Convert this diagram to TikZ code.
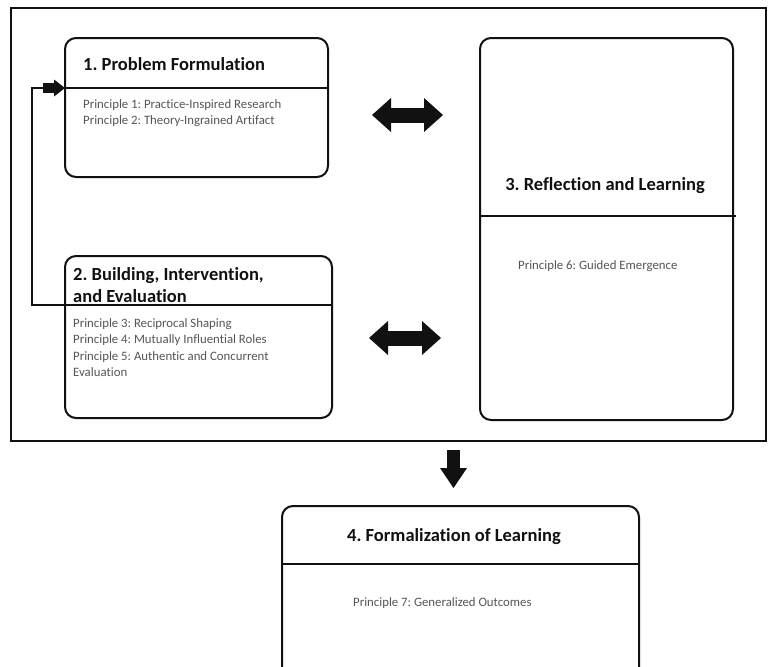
\documentclass[tikz,border=0pt]{standalone}
\usepackage{fontspec}
\setmainfont{Carlito}[Ligatures={NoCommon}]
\frenchspacing
\usetikzlibrary{arrows.meta}
\definecolor{ink}{HTML}{111111}
\definecolor{note}{HTML}{555555}
\begin{document}
\begin{tikzpicture}[x=1pt,y=-1pt,
  framebox/.style={draw=ink,line width=2pt,anchor=north west,inner sep=0pt,outer sep=0pt},
  phase/.style={framebox,rounded corners=11pt},
  rule/.style={draw=ink,line width=2pt},
  heading/.style={text=ink,font=\fontsize{18.5}{22}\selectfont\bfseries,inner sep=0pt},
  principle/.style={text=note,font=\fontsize{12.8}{15}\selectfont,anchor=base west,inner sep=0pt},
  fatboth/.style={draw=ink,line width=15pt,
    {Triangle[length=19pt,width=34pt,line width=0pt]}-{Triangle[length=19pt,width=34pt,line width=0pt]}},
  fatone/.style={draw=ink,line width=13pt,-{Triangle[length=20pt,width=27pt,line width=0pt]}},
  fatsmall/.style={draw=ink,line width=10pt,-{Triangle[length=11pt,width=17pt,line width=0pt]}},
]
\clip (0,0) rectangle (769,667);
\fill[white] (0,0) rectangle (769,667);

% outer frame around the iterative stages
\node[framebox,minimum width=755pt,minimum height=433pt] (cycle) at (11,8) {};

% stage boxes
\node[phase,minimum width=263pt,minimum height=139pt] (b1) at (65,38) {};
\node[phase,minimum width=267pt,minimum height=162pt] (b2) at (65,256) {};
\node[phase,minimum width=253pt,minimum height=382pt] (b3) at (480,38) {};
\node[phase,minimum width=357pt,minimum height=300pt] (b4) at (282,506) {};

% header dividers
\draw[rule] (65,88) -- (328,88);
\draw[rule] (480,216) -- (736,216);
\draw[rule] (282,564) -- (639,564);

% stage 1
\node[heading,anchor=base west] (t1) at (83,70) {1. Problem Formulation};
\node[principle] (p1) at (83,108) {Principle 1: Practice-Inspired Research};
\node[principle] (p2) at (83,124) {Principle 2: Theory-Ingrained Artifact};

% stage 2
\node[heading,anchor=base west] (t2a) at (73,280) {2. Building, Intervention,};
\node[heading,anchor=base west] (t2b) at (73,302) {and Evaluation};
\node[principle] (p3) at (73,327) {Principle 3: Reciprocal Shaping};
\node[principle] (p4) at (73,343.5) {Principle 4: Mutually Influential Roles};
\node[principle] (p5) at (73,360) {Principle 5: Authentic and Concurrent};
\node[principle] (p5b) at (73,376.5) {Evaluation};

% stage 3
\node[heading,anchor=base] (t3) at (605,190) {3. Reflection and Learning};
\node[principle] (p6) at (518,269) {Principle 6: Guided Emergence};

% stage 4
\node[heading,anchor=base] (t4) at (454,541) {4. Formalization of Learning};
\node[principle] (p7) at (353,606) {Principle 7: Generalized Outcomes};

% arrow end points
\coordinate (fb0) at (333,305);
\coordinate (fb1) at (32,305);
\coordinate (fb2) at (32,88);
\coordinate (fb3) at (43,88);
\coordinate (fb4) at (65,88);
\coordinate (ta) at (372,115);
\coordinate (tb) at (443,115);
\coordinate (ba) at (369,338);
\coordinate (bb) at (441,338);
\coordinate (da) at (453.5,450);
\coordinate (db) at (453.5,488);

% feedback loop from stage 2 back to stage 1
\draw[rule] (fb0) -- (fb1) -- (fb2) -- (fb3);
\draw[fatsmall] (fb3) -- (fb4);

% exchanges with reflection and learning
\draw[fatboth] (ta) -- (tb);
\draw[fatboth] (ba) -- (bb);

% on to formalization
\draw[fatone] (da) -- (db);
\end{tikzpicture}
\end{document}
